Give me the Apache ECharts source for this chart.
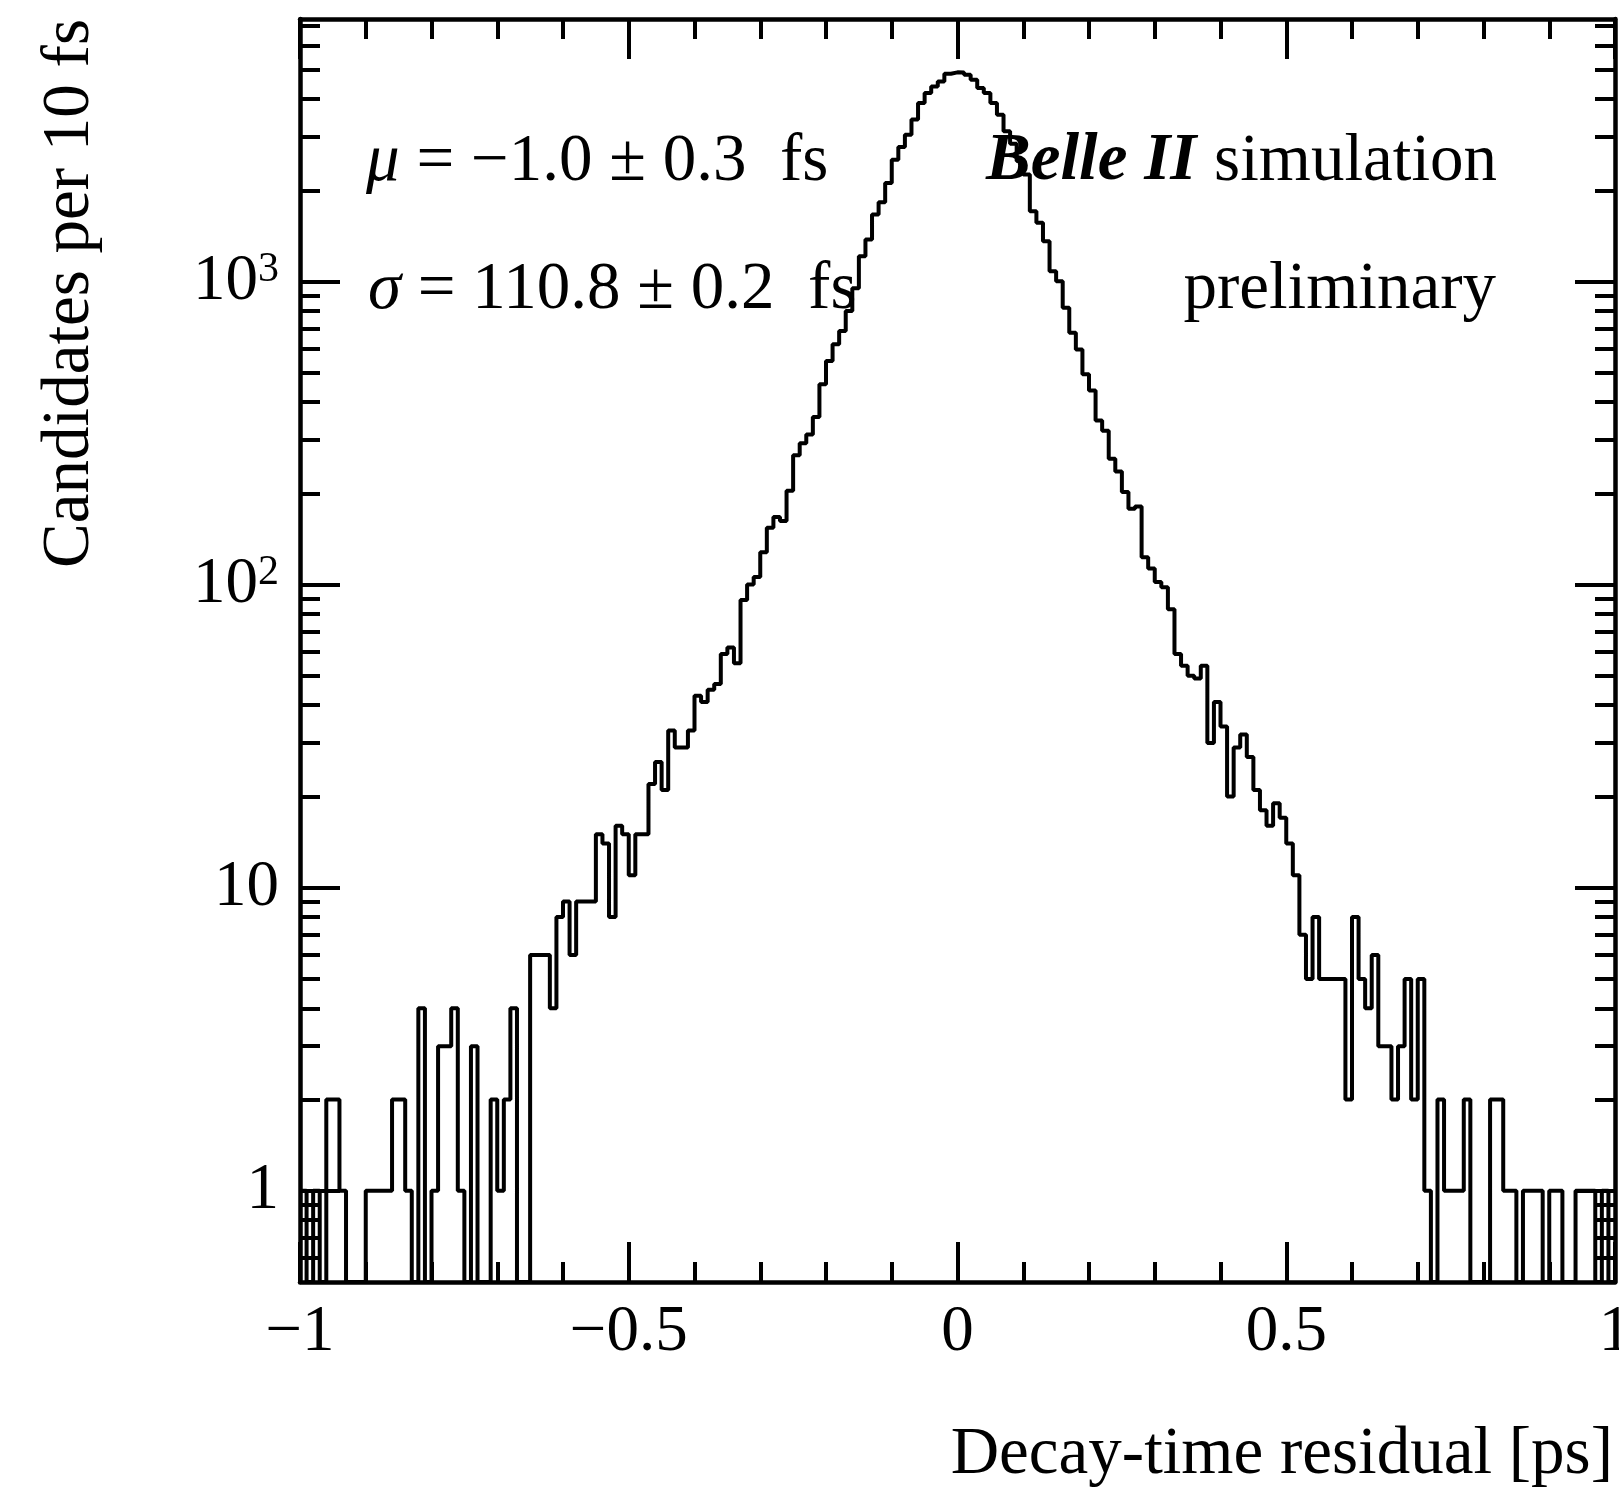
<!DOCTYPE html>
<html>
<head>
<meta charset="utf-8">
<script src="https://cdn.jsdelivr.net/npm/echarts@6/dist/echarts.min.js"></script>
<style>
html,body{margin:0;padding:0;background:#fff;}
#chart{width:1619px;height:1493px;}
</style>
</head>
<body>
<div id="chart"></div>
<script>
// ---------------- data ----------------
// Histogram: decay-time residual, 200 bins of 10 fs from -1 ps to 1 ps
const xMin = -1;
const xMax = 1;
const binWidth = 0.01;
// candidates per bin, bins 0-49
const countsA = [1,0,1,0,2,2,1,0,0,0, 1,1,1,1,2,2,1,0,4,0, 1,3,3,4,1,0,3,0,0,2,
                 1,2,4,0,0,6,6,6,4,8, 9,6,9,9,9,15,14,8,16,15];
// bins 50-99
const countsB = [11,15,15,22,26,21,33,29,29,33, 43,41,45,47,59,62,55,89,100,106,
                 128,154,167,162,204,267,293,313,357,458, 547,621,687,800,950,1213,1377,1664,1827,2116,
                 2525,2780,3052,3422,3883,4189,4405,4575,4850,4900];
// bins 100-149
const countsC = [4895,4810,4634,4350,4189,3883,3553,3132,2850,2500, 2254,1706,1562,1359,1082,1003,820,678,597,494,
                 437,348,322,260,236,202,178,181,123,113, 102,98,83,59,54,50,49,54,30,41,
                 34,20,29,32,27,21,18,16,19,17];
// bins 150-199
const countsD = [14,11,7,5,8,5,5,5,5,2, 8,5,4,6,3,3,2,3,5,2, 5,1,0,2,1,1,1,2,0,0,
                 0,2,2,1,1,0,1,1,1,0, 1,1,0,0,1,1,1,0,1,0];

const yMin = 0.5;
const yMax = 7350;
const yMajorTicks = [1, 10, 100, 1000];
const yMinorTicks = [0.6,0.7,0.8,0.9, 2,3,4,5,6,7,8,9, 20,30,40,50,60,70,80,90,
                     200,300,400,500,600,700,800,900, 2000,3000,4000,5000,6000,7000];

const xTitle = 'Decay-time residual [ps]';
const yTitle = 'Candidates per 10 fs';
const muText = '{i|\u03bc} = \u22121.0 \u00b1 0.3  fs';
const sigmaText = '{i|\u03c3} = 110.8 \u00b1 0.2  fs';

// ---------------- build ----------------
const counts = [].concat(countsA, countsB, countsC, countsD);
const nBins = counts.length;
// step outline through bin low edges; empty bins drawn at the axis floor (ROOT convention on log scale)
const stepData = counts.map((c, k) => [+(xMin + k * binWidth).toFixed(4), c > 0 ? c : yMin]);
stepData.push([xMax, counts[nBins - 1] > 0 ? counts[nBins - 1] : yMin]);

const FONT = '"Liberation Serif", "DejaVu Serif", serif';
const FS = 65;
const FT = 67;
const black = '#000';

function xFmt(v) {
  const a = Math.abs(v);
  return (v < 0 ? '\u2212' : '') + (Math.round(a * 100) / 100);
}
function yFmt(v) {
  if (v === 1) return '1';
  if (v === 10) return '10';
  const e = Math.round(Math.log10(v));
  return '{b|10}{s|' + e + '}';
}

const tickStyle = {color: black, width: 4};
function xAxisDef(pos, labels) {
  return {
    type: 'value', position: pos, min: xMin, max: xMax, interval: 0.5,
    axisLine: {show: true, onZero: false, lineStyle: {color: black, width: 4.5}},
    axisTick: {show: true, inside: true, length: 40, lineStyle: tickStyle},
    minorTick: {show: true, splitNumber: 5, length: 20, lineStyle: tickStyle},
    axisLabel: {show: labels, margin: 18, color: black, fontFamily: FONT, fontSize: FS,
                formatter: xFmt, showMinLabel: true, showMaxLabel: true, hideOverlap: false},
    splitLine: {show: false}, minorSplitLine: {show: false}
  };
}
function yAxisDef(pos, major, labels) {
  return {
    type: 'log', logBase: 10, position: pos, min: yMin, max: yMax,
    axisLine: {show: major, onZero: false, lineStyle: {color: black, width: 4.5}},
    axisTick: {show: true, inside: true, length: major ? 40 : 20, lineStyle: tickStyle,
               customValues: major ? yMajorTicks : yMinorTicks},
    axisLabel: {show: labels, margin: 21, color: black, fontFamily: FONT, fontSize: FS,
                customValues: yMajorTicks, formatter: yFmt,
                rich: {
                  b: {fontFamily: FONT, fontSize: FS, lineHeight: FS, color: black, verticalAlign: 'bottom', padding: [10, 0, 0, 0]},
                  s: {fontFamily: FONT, fontSize: 42, lineHeight: 42, color: black, verticalAlign: 'top'}
                }},
    splitLine: {show: false}, minorTick: {show: false}, minorSplitLine: {show: false}
  };
}

function txt(x, y, text, extra) {
  return {
    type: 'text', x: x, y: y, z: 10,
    style: Object.assign({
      text: text, fill: black, fontFamily: FONT, fontSize: FT,
      align: 'left', textAlign: 'left', verticalAlign: 'middle', textVerticalAlign: 'middle'
    }, extra || {})
  };
}

const chart = echarts.init(document.getElementById('chart'), null, {renderer: 'canvas'});
const option = {
  animation: false,
  backgroundColor: '#fff',
  grid: {left: 300, right: 4, top: 19, bottom: 211, containLabel: false, outerBoundsMode: 'none'},
  xAxis: [xAxisDef('bottom', true), xAxisDef('top', false)],
  yAxis: [yAxisDef('left', true, true), yAxisDef('left', false, false),
          yAxisDef('right', true, false), yAxisDef('right', false, false)],
  series: [{
    type: 'line', xAxisIndex: 0, yAxisIndex: 0, data: stepData, step: 'end',
    symbol: 'none', showSymbol: false, clip: true, z: 3,
    lineStyle: {color: black, width: 4}
  }],
  graphic: [
    txt(366, 162, muText, {rich: {i: {fontFamily: FONT, fontSize: FT, fontStyle: 'italic', fill: black}}}),
    txt(368, 290, sigmaText, {rich: {i: {fontFamily: FONT, fontSize: FT, fontStyle: 'italic', fill: black}}}),
    txt(986, 162, 'Belle II', {fontStyle: 'italic', fontWeight: 'bold'}),
    txt(1497, 162, 'simulation', {align: 'right', textAlign: 'right'}),
    txt(1496, 290, 'preliminary', {align: 'right', textAlign: 'right'}),
    txt(1613, 1455, xTitle, {align: 'right', textAlign: 'right'}),
    Object.assign(txt(70, 19, yTitle, {align: 'right', textAlign: 'right'}), {rotation: Math.PI / 2})
  ]
};
chart.setOption(option);
</script>
</body>
</html>
